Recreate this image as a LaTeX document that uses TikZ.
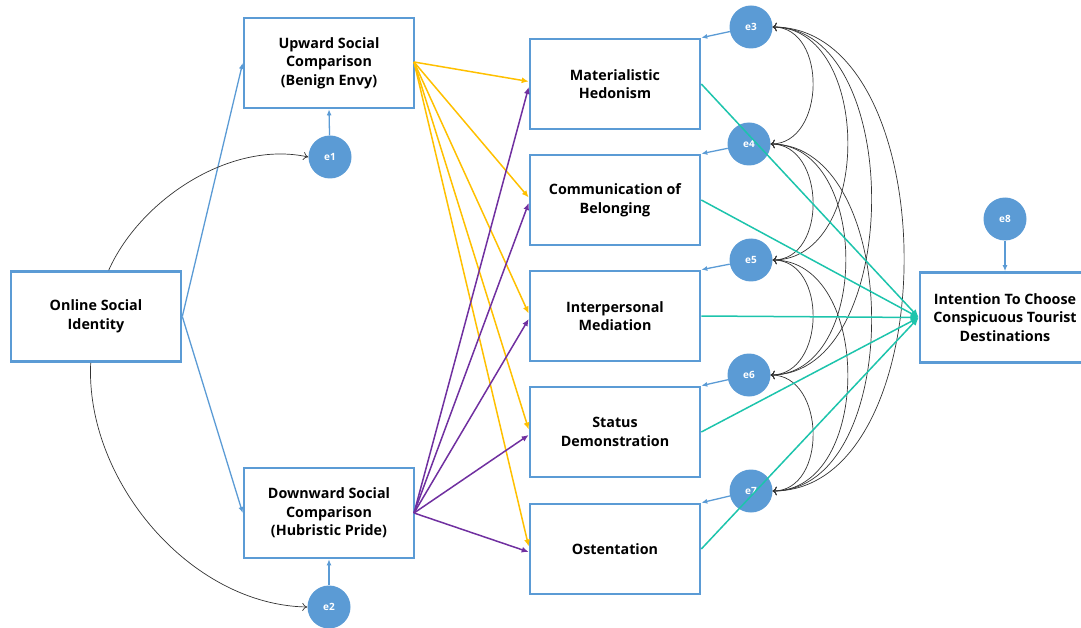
\documentclass[tikz,border=0pt]{standalone}
\usepackage{fontspec}
\setmainfont{Open Sans}
\usetikzlibrary{arrows.meta}
\definecolor{bx}{HTML}{5B9BD5}
\definecolor{yl}{HTML}{FFC000}
\definecolor{pu}{HTML}{7030A0}
\definecolor{tl}{HTML}{1DC4AC}
\begin{document}
\begin{tikzpicture}[x=1pt,y=-1pt,
  box/.style={draw=bx,line width=2.6pt,minimum width=170pt,minimum height=90pt,
    font=\bfseries\fontsize{14.3}{18.5}\selectfont,align=center,inner sep=0pt},
  err/.style={circle,fill=bx,minimum size=43pt,inner sep=0pt,text=white,
    font=\bfseries\fontsize{10}{10}\selectfont},
  bl/.style={draw=bx,line width=1.3pt,-{Latex[length=6pt,width=5pt]}},
  ya/.style={draw=yl,line width=1.5pt,-{Latex[length=7pt,width=6pt]}},
  pa/.style={draw=pu,line width=1.5pt,-{Latex[length=7pt,width=6pt]}},
  ta/.style={draw=tl,line width=1.5pt,-{Latex[length=8pt,width=7pt]}},
  cv/.style={draw=black!80,line width=0.7pt,{To[length=4pt]}-{To[length=4pt]}},
  ca/.style={draw=black!80,line width=0.7pt,-{To[length=5pt,width=8pt]}}]
\useasboundingbox (0,0) rectangle (1081,628);
\node[box] (osi) at (96,316.5) {Online Social\\Identity};
\node[box] (up) at (329,63) {Upward Social\\Comparison\\(Benign Envy)};
\node[box] (down) at (329,513) {Downward Social\\Comparison\\(Hubristic Pride)};
\node[box] (m1) at (615,84) {Materialistic\\Hedonism};
\node[box] (m2) at (615,200) {Communication of\\Belonging};
\node[box] (m3) at (615,316) {Interpersonal\\Mediation};
\node[box] (m4) at (615,432) {Status\\Demonstration};
\node[box] (m5) at (615,549) {Ostentation};
\node[box] (int) at (1005,317.5) {Intention To Choose\\Conspicuous Tourist\\Destinations};

\node[err] (e1) at (330,157) {e1};
\node[err] (e2) at (329,607) {e2};
\node[err] (e3) at (751,27) {e3};
\node[err] (e4) at (749,144) {e4};
\node[err] (e5) at (751,260) {e5};
\node[err] (e6) at (749,375) {e6};
\node[err] (e7) at (751,491) {e7};
\node[err] (e8) at (1005,219) {e8};

% blue paths
\draw[bl] (osi.east) -- (up.west);
\draw[bl] (osi.east) -- (down.west);
\draw[bl] (e1) -- (up.south);
\draw[bl] (e2) -- (down.south);
\draw[bl] (e8) -- (int.north);
\foreach \e/\m in {e3/m1,e4/m2,e5/m3,e6/m4,e7/m5}
  \draw[bl] (\e) -- (\m.north east);

% curved arrows to e1, e2
\draw[ca] (osi.north west) ++(99,0) coordinate (o1) .. controls (140,200) and (230,140) .. (e1.west);
\draw[ca] (osi.south west) ++(81,0) coordinate (o2) .. controls (85,480) and (190,605) .. (e2.west);

% yellow from upward
\coordinate (uo) at (414,62);
\foreach \m in {m1,m2,m3,m4,m5}
  \draw[ya] (uo) -- ([yshift=2.5pt]\m.west);
% purple from downward
\coordinate (do) at (414,513);
\foreach \m in {m1,m2,m3,m4,m5}
  \draw[pa] (do) -- ([yshift=-3pt]\m.west);

% covariances
\foreach \a/\b/\d in {e3/e4/55,e4/e5/55,e5/e6/55,e6/e7/55,
  e3/e5/100,e4/e6/100,e5/e7/100,e3/e6/133,e4/e7/133,e3/e7/175}
  \draw[cv] (\a.east) .. controls +(\d,0) and +(\d,0) .. (\b.east);

% teal to intention
\foreach \m in {m1,m2,m3,m4,m5}
  \draw[ta] (\m.east) -- (int.west);
\end{tikzpicture}
\end{document}
